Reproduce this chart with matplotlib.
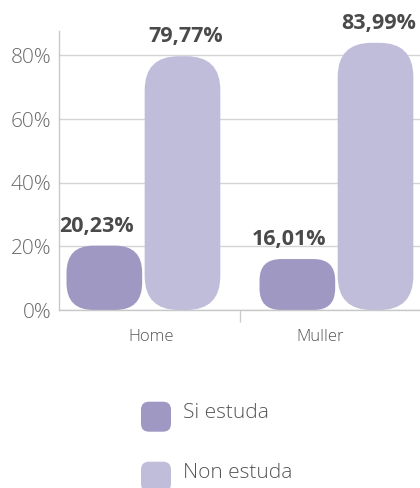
import matplotlib
matplotlib.use('Agg')
import matplotlib.pyplot as plt
from matplotlib.patches import FancyBboxPatch

# Data
categories = ['Home', 'Muller']
series_names = ['Si estuda', 'Non estuda']
si_estuda = [20.23, 16.01]
non_estuda = [79.77, 83.99]
value_labels = [['20,23%', '16,01%'], ['79,77%', '83,99%']]
y_ticks = [0, 20, 40, 60, 80]
y_tick_labels = ['0%', '20%', '40%', '60%', '80%']

colors = ['#9e98c3', '#c0bdda']
series_values = [si_estuda, non_estuda]

plt.rcParams['font.family'] = ['Open Sans', 'DejaVu Sans']

W, H = 420, 488
fig = plt.figure(figsize=(W / 100, H / 100), dpi=100)
ax = fig.add_axes([58.5 / W, (H - 310) / H, 1 - 58.5 / W, 279 / H])
ax.set_xlim(-0.44, 1.433)
ax.set_ylim(0, 87.7)

# units per pixel, for round corners that stay round
p = ax.transData.transform([(0, 0), (1, 1)])
ux = 1 / (p[1, 0] - p[0, 0])
uy = 1 / (p[1, 1] - p[0, 1])

bar_w = 0.392
offsets = [-0.2025, 0.2025]
label_dx = [-8, 3.5]  # pixels
radius_px = 34

for i, vals in enumerate(series_values):
    for j, v in enumerate(vals):
        xc = j + offsets[i]
        # keep the corner radius below half of the bar height
        r = min(radius_px, 0.42 * v / uy)
        box = FancyBboxPatch((xc - bar_w / 2, 0), bar_w, v,
                             boxstyle=f"round,pad=0,rounding_size={r * ux}",
                             mutation_aspect=uy / ux,
                             facecolor=colors[i], edgecolor='none', zorder=2)
        ax.add_patch(box)
        ax.annotate(value_labels[i][j], (xc, v),
                    xytext=(label_dx[i] * 0.72, 14 * 0.72), textcoords='offset points',
                    ha='center', va='baseline', fontsize=15.5, fontweight='bold',
                    color='#4a4a4a', annotation_clip=False, clip_on=False)

# axes styling
ax.set_yticks(y_ticks)
ax.set_yticklabels(y_tick_labels, fontsize=15, color='#6a6a6a', fontweight='light')
ax.yaxis.grid(True, color='#d4d4d4', lw=1)
ax.set_axisbelow(True)
ax.tick_params(axis='y', length=0, pad=5)

ax.set_xticks([0.5])
ax.set_xticklabels([''])
ax.tick_params(axis='x', length=8.6, width=1, color='#cccccc', direction='out')

for s in ['top', 'right']:
    ax.spines[s].set_visible(False)
for s in ['left', 'bottom']:
    ax.spines[s].set_color('#c8c8c8')
    ax.spines[s].set_linewidth(1)

cat_shift = [0.042, -0.082]
for j, c in enumerate(categories):
    ax.annotate(c, (j + cat_shift[j], 0), xycoords=('data', 'axes fraction'),
                xytext=(0, -27 * 0.72), textcoords='offset points',
                ha='center', va='center', fontsize=12, color='#555555',
                fontweight='light')

# legend drawn by hand with rounded squares
leg_y = [0.563, -0.037]
for i, name in enumerate(series_names):
    sq = FancyBboxPatch((1.41, leg_y[i]), 0.30, 0.30,
                        boxstyle="round,pad=0,rounding_size=0.08",
                        transform=fig.dpi_scale_trans,
                        facecolor=colors[i], edgecolor='none')
    fig.patches.append(sq)
    fig.text(1.83, leg_y[i] + 0.19, name, transform=fig.dpi_scale_trans,
             ha='left', va='center', fontsize=15, color='#555555',
             fontweight='light')

fig.savefig('out.png', dpi=100)
